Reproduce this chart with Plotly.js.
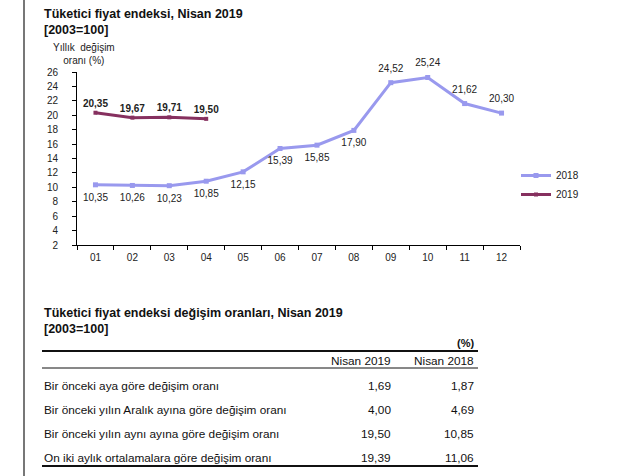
<!DOCTYPE html>
<html>
<head>
<meta charset="utf-8">
<script src="https://cdn.plot.ly/plotly-3.0.1.min.js"></script>
<style>
  html, body { margin: 0; padding: 0; background: #fff; }
  #chart { width: 640px; height: 476px; }
</style>
</head>
<body>
<div id="chart"></div>
<script>
// chart data
const months = ["01", "02", "03", "04", "05", "06", "07", "08", "09", "10", "11", "12"];
const y2018 = [10.35, 10.26, 10.23, 10.85, 12.15, 15.39, 15.85, 17.90, 24.52, 25.24, 21.62, 20.30];
const y2019 = [20.35, 19.67, 19.71, 19.50];
const pos2018 = ["bottom center", "bottom center", "bottom center", "bottom center", "bottom center",
    "bottom center", "bottom center", "bottom center", "top center", "top center", "top center", "top center"];

// table data
const rowLabels = [
    "Bir önceki aya göre değişim oranı",
    "Bir önceki yılın Aralık ayına göre değişim oranı",
    "Bir önceki yılın aynı ayına göre değişim oranı",
    "On iki aylık ortalamalara göre değişim oranı"
];
const colHeaders = ["Nisan 2019", "Nisan 2018"];
const colNisan2019 = ["1,69", "4,00", "19,50", "19,39"];
const colNisan2018 = ["1,87", "4,69", "10,85", "11,06"];

const fmt = v => v.toFixed(2).replace(".", ",");

const FONT = "Liberation Sans, Arial, sans-serif";
const TABLE_SIZE = 11.8;

const traces = [
    {
        name: "2018",
        x: months,
        y: y2018,
        type: "scatter",
        mode: "lines+markers",
        line: { color: "#9999ee", width: 3 },
        marker: { symbol: "square", size: 5, color: "#9999ee" },
        hoverinfo: "x+y"
    },
    {
        name: "2019",
        x: months.slice(0, y2019.length),
        y: y2019,
        type: "scatter",
        mode: "lines+markers+text",
        line: { color: "#86305f", width: 3 },
        marker: { symbol: "square", size: 4, color: "#86305f" },
        text: y2019.map(fmt),
        textposition: "top center",
        textfont: { family: FONT, size: 10, color: "#222", weight: "bold" },
        cliponaxis: false,
        hoverinfo: "x+y"
    },
    // 2018 value labels, set a bit further off the line (invisible wider markers)
    {
        name: "2018 labels",
        x: months,
        y: y2018,
        type: "scatter",
        mode: "markers+text",
        marker: { size: 12, opacity: 0 },
        text: y2018.map(fmt),
        textposition: pos2018,
        textfont: { family: FONT, size: 10, color: "#222" },
        cliponaxis: false,
        showlegend: false,
        hoverinfo: "skip"
    }
];

// titles
const annotations = [
    { text: "<b>Tüketici fiyat endeksi, Nisan 2019</b>", y: 1 - 14 / 476 },
    { text: "<b>[2003=100]</b>", y: 1 - 30 / 476 },
    { text: "<b>Tüketici fiyat endeksi değişim oranları, Nisan 2019</b>", y: 1 - 313 / 476 },
    { text: "<b>[2003=100]</b>", y: 1 - 329 / 476 }
].map(a => ({
    text: a.text, xref: "paper", yref: "paper", x: 42 / 640, y: a.y,
    xanchor: "left", yanchor: "middle", showarrow: false,
    font: { family: FONT, size: 12.5, color: "#111" }
}));

annotations.push({
    text: "Yıllık  değişim<br>oranı (%)", xref: "paper", yref: "paper",
    x: 84 / 640, y: 1 - 54 / 476, xanchor: "center", yanchor: "middle", showarrow: false,
    font: { family: FONT, size: 10, color: "#222" }
});

// table cells drawn as annotations on a hidden axis pair (x2/y2)
// x2: 0 = left edge of table, 1 = right edge; y2: row index (0..3), header at about -1
annotations.push({
    text: "<b>(%)</b>", xref: "x2", yref: "y2", x: 0.996, y: -1.79,
    xanchor: "right", yanchor: "middle", showarrow: false,
    font: { family: FONT, size: 11, color: "#111" }
});

const colX = [0.804, 0.995];
colHeaders.forEach((h, j) => annotations.push({
    text: h, xref: "x2", yref: "y2", x: colX[j], y: -1.04,
    xanchor: "right", yanchor: "middle", showarrow: false,
    font: { family: FONT, size: TABLE_SIZE, color: "#111" }
}));

rowLabels.forEach((label, i) => {
    annotations.push({
        text: label, xref: "x2", yref: "y2", x: 0, y: i,
        xanchor: "left", yanchor: "middle", showarrow: false,
        font: { family: FONT, size: TABLE_SIZE, color: "#111" }
    });
    [colNisan2019[i], colNisan2018[i]].forEach((v, j) => annotations.push({
        text: v, xref: "x2", yref: "y2", x: colX[j], y: i,
        xanchor: "right", yanchor: "middle", showarrow: false,
        font: { family: FONT, size: TABLE_SIZE, color: "#111" }
    }));
});

function hRule(y, width) {
    return {
        type: "line", xref: "x2", yref: "y2",
        x0: 0, x1: 1, y0: y, y1: y,
        line: { color: "#111", width: width }
    };
}

const layout = {
    width: 640,
    height: 476,
    margin: { l: 0, r: 0, t: 0, b: 0 },
    paper_bgcolor: "#fff",
    plot_bgcolor: "rgba(0,0,0,0)",
    font: { family: FONT, size: 10, color: "#222" },
    showlegend: true,
    legend: {
        x: 516 / 640, y: 1 - 161 / 476,
        xanchor: "left", yanchor: "top",
        bgcolor: "rgba(0,0,0,0)",
        font: { family: FONT, size: 10, color: "#222" },
        itemwidth: 30,
        tracegroupgap: 0
    },

    // chart axes
    xaxis: {
        type: "category",
        domain: [77 / 640, 520 / 640],
        range: [-0.5, months.length - 0.5],
        showline: true, linecolor: "#000", linewidth: 1,
        ticks: "outside", ticklen: 4, tickcolor: "#000",
        tickson: "boundaries",
        ticklabelstandoff: 3,
        showgrid: false, zeroline: false,
        tickfont: { family: FONT, size: 10, color: "#222" },
        fixedrange: true
    },
    yaxis: {
        domain: [1 - 245 / 476, 1 - 72 / 476],
        range: [2, 26],
        dtick: 2,
        showline: true, linecolor: "#000", linewidth: 1,
        ticks: "outside", ticklen: 4, tickcolor: "#000",
        ticklabelstandoff: 12,
        showgrid: false, zeroline: false,
        tickfont: { family: FONT, size: 10, color: "#222" },
        fixedrange: true
    },

    // hidden axes for the table
    xaxis2: {
        domain: [42 / 640, 478 / 640], range: [0, 1], anchor: "y2",
        visible: false, fixedrange: true
    },
    yaxis2: {
        domain: [1 - 470 / 476, 1 - 338 / 476], range: [3.5, -2], anchor: "x2",
        visible: false, fixedrange: true
    },

    annotations: annotations,
    shapes: [
        // left border of the page
        { type: "line", xref: "paper", yref: "paper", x0: 24 / 640, x1: 24 / 640, y0: 0, y1: 1,
          line: { color: "#777", width: 2 } },
        hRule(-1.46, 2),
        hRule(-0.75, 1),
        hRule(3.33, 2)
    ]
};

Plotly.newPlot("chart", traces, layout, { staticPlot: true, displayModeBar: false });
</script>
</body>
</html>
